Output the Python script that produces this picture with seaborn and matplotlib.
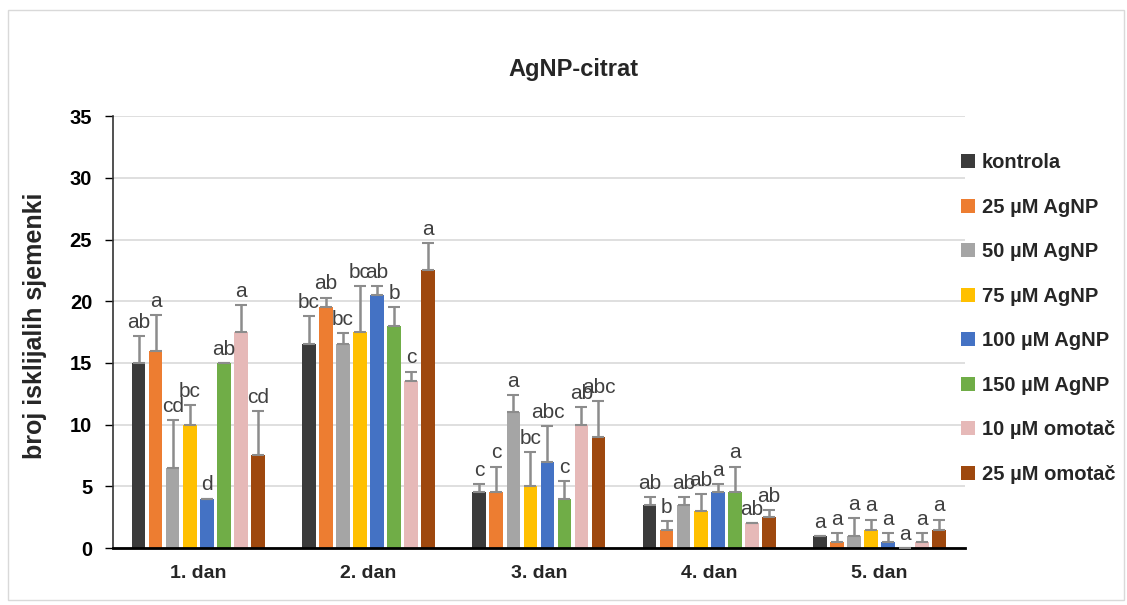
import numpy as np
import pandas as pd
import matplotlib.pyplot as plt
from matplotlib.patches import Patch, Rectangle
import seaborn as sns

# podaci
dani = ['1. dan', '2. dan', '3. dan', '4. dan', '5. dan']
tretmani = ['kontrola', '25 µM AgNP', '50 µM AgNP', '75 µM AgNP',
            '100 µM AgNP', '150 µM AgNP', '10 µM omotač', '25 µM omotač']
boje = ['#3b3b3b', '#ed7d31', '#a5a5a5', '#ffc000',
        '#4472c4', '#70ad47', '#e6b9b8', '#9e480e']

kontrola = [15.0, 16.5, 4.5, 3.5, 1.0]
agnp_25 = [16.0, 19.5, 4.5, 1.5, 0.5]
agnp_50 = [6.5, 16.5, 11.0, 3.5, 1.0]
agnp_75 = [10.0, 17.5, 5.0, 3.0, 1.5]
agnp_100 = [4.0, 20.5, 7.0, 4.5, 0.5]
agnp_150 = [15.0, 18.0, 4.0, 4.5, 0.0]
omotac_10 = [17.5, 13.5, 10.0, 2.0, 0.5]
omotac_25 = [7.5, 22.5, 9.0, 2.5, 1.5]

err_kontrola = [2.2, 2.3, 0.7, 0.6, 0.0]
err_agnp_25 = [2.9, 0.8, 2.1, 0.7, 0.7]
err_agnp_50 = [3.9, 0.9, 1.4, 0.6, 1.4]
err_agnp_75 = [1.6, 3.7, 2.8, 1.4, 0.8]
err_agnp_100 = [0.0, 0.7, 2.9, 0.7, 0.7]
err_agnp_150 = [0.0, 1.5, 1.4, 2.1, 0.0]
err_omotac_10 = [2.2, 0.8, 1.4, 0.0, 0.7]
err_omotac_25 = [3.6, 2.2, 2.9, 0.6, 0.8]

slova_kontrola = ['ab', 'bc', 'c', 'ab', 'a']
slova_agnp_25 = ['a', 'ab', 'c', 'b', 'a']
slova_agnp_50 = ['cd', 'bc', 'a', 'ab', 'a']
slova_agnp_75 = ['bc', 'bc', 'bc', 'ab', 'a']
slova_agnp_100 = ['d', 'ab', 'abc', 'a', 'a']
slova_agnp_150 = ['ab', 'b', 'c', 'a', 'a']
slova_omotac_10 = ['a', 'c', 'ab', 'ab', 'a']
slova_omotac_25 = ['cd', 'a', 'abc', 'ab', 'a']

vrijednosti = [kontrola, agnp_25, agnp_50, agnp_75, agnp_100, agnp_150, omotac_10, omotac_25]
greske = [err_kontrola, err_agnp_25, err_agnp_50, err_agnp_75,
          err_agnp_100, err_agnp_150, err_omotac_10, err_omotac_25]
slova = [slova_kontrola, slova_agnp_25, slova_agnp_50, slova_agnp_75,
         slova_agnp_100, slova_agnp_150, slova_omotac_10, slova_omotac_25]

rows = []
for t, v in zip(tretmani, vrijednosti):
    for d, x in zip(dani, v):
        rows.append({'dan': d, 'tretman': t, 'broj': x})
df = pd.DataFrame(rows)

sns.set_style('white')
plt.rcParams['font.family'] = ['Liberation Sans', 'DejaVu Sans']

fig = plt.figure(figsize=(11.27, 6.05), dpi=100)
ax = fig.add_axes([0.1003, 0.0942, 0.7557, 0.7138])

sns.barplot(data=df, x='dan', y='broj', hue='tretman', hue_order=tretmani,
            palette=boje, saturation=1, width=0.8, gap=0.2, errorbar=None,
            linewidth=0, legend=False, ax=ax, zorder=2)

for cont, err, sl in zip(ax.containers, greske, slova):
    for bar, e, s in zip(cont, err, sl):
        xc = bar.get_x() + bar.get_width() / 2
        h = bar.get_height()
        ax.errorbar(xc, h, yerr=[[0], [e]], fmt='none', ecolor='#8c8c8c',
                    elinewidth=1.8, capsize=4.5, capthick=1.5, zorder=3)
        ax.annotate(s, (xc, h + e), xytext=(0, 3), textcoords='offset points',
                    ha='center', va='bottom', fontsize=15, color='#404040')

ax.set_ylim(0, 35)
ax.set_xlim(-0.5, 4.5)
ax.set_yticks(range(0, 36, 5))
ax.yaxis.grid(True, color='#d9d9d9', linewidth=1.2, zorder=0)
ax.set_axisbelow(True)
for s in ['top', 'right']:
    ax.spines[s].set_visible(False)
ax.spines['bottom'].set_linewidth(2)
ax.spines['bottom'].set_color('black')
ax.spines['left'].set_linewidth(1.2)
ax.spines['left'].set_color('#333333')
ax.tick_params(axis='y', left=True, length=6, width=1, colors='black', labelsize=14.5, pad=9)
ax.tick_params(axis='x', bottom=False, labelsize=14, pad=9)
for lab in ax.get_xticklabels() + ax.get_yticklabels():
    lab.set_fontweight('bold')
ax.set_xlabel('')
ax.set_ylabel('broj isklijalih sjemenki', fontsize=18, fontweight='bold')
ax.yaxis.set_label_coords(-0.077, 0.514)

fig.text(0.509, 0.885, 'AgNP-citrat', ha='center', va='center', fontsize=17, fontweight='bold')

handles = [Patch(facecolor=c, edgecolor='none') for c in boje]
fig.legend(handles, tretmani, loc='upper left', bbox_to_anchor=(0.8365, 0.777),
           frameon=False, prop={'weight': 'bold', 'size': 14.5},
           handlelength=0.7, handleheight=0.7, handletextpad=0.35, labelspacing=1.27)

fig.add_artist(Rectangle((0.007, 0.008), 0.99, 0.975, transform=fig.transFigure,
                         fill=False, edgecolor='#d9d9d9', linewidth=1))

fig.savefig('out.png', dpi=100)
